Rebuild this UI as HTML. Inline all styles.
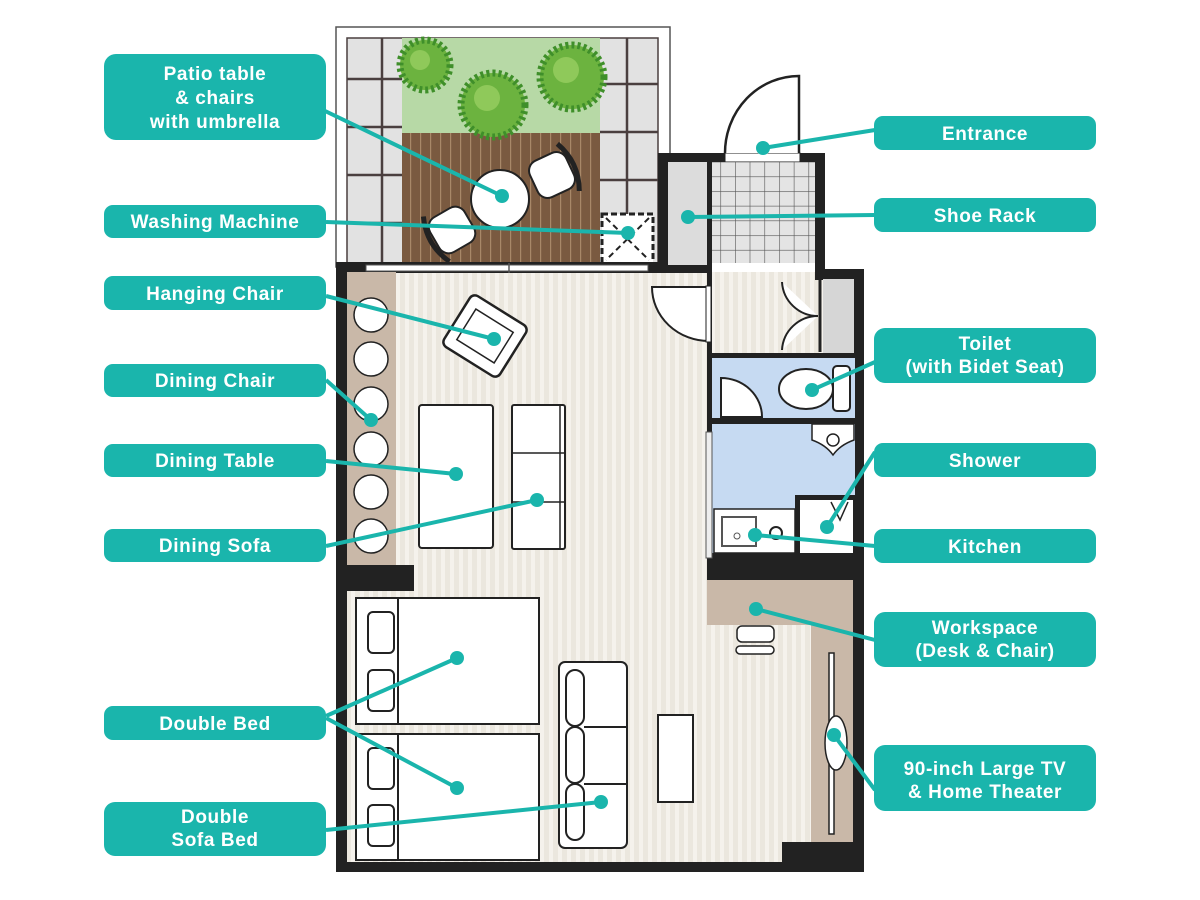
<!DOCTYPE html>
<html><head><meta charset="utf-8"><style>
html,body{margin:0;padding:0;background:#fff;width:1200px;height:900px;overflow:hidden}
svg text{font-family:"Liberation Sans","DejaVu Sans",sans-serif;font-weight:bold;fill:#fff;font-size:19px;letter-spacing:0.6px}
</style></head><body>
<svg width="1200" height="900" viewBox="0 0 1200 900" xmlns="http://www.w3.org/2000/svg">
<defs>
<pattern id="fl" width="9" height="20" patternUnits="userSpaceOnUse">
<rect width="9" height="20" fill="#ebe7de"/><rect x="0" width="4" height="20" fill="#f5f2ec"/>
</pattern>
<pattern id="deck" width="10" height="20" patternUnits="userSpaceOnUse">
<rect width="10" height="20" fill="#7a5a40"/><rect x="0" width="1.2" height="20" fill="#a88868"/>
</pattern>
<pattern id="tile" width="14.7" height="14.7" patternUnits="userSpaceOnUse">
<rect width="14.7" height="14.7" fill="#e4e4e4"/><path d="M0 0H14.7M0 0V14.7" stroke="#555" stroke-width="1.2"/>
</pattern>
</defs>

<!-- patio -->
<rect x="336" y="27" width="334" height="240" fill="#fff" stroke="#555" stroke-width="1.5"/>
<rect x="347" y="38" width="311" height="228" fill="#e2e2e2" stroke="#4a3f3f" stroke-width="1.5"/>
<g stroke="#4a3f3f" stroke-width="2.5">
<line x1="382" y1="38" x2="382" y2="265"/><line x1="627" y1="38" x2="627" y2="265"/>
<line x1="347" y1="79" x2="402" y2="79"/><line x1="347" y1="127" x2="402" y2="127"/><line x1="347" y1="175" x2="402" y2="175"/><line x1="347" y1="223" x2="402" y2="223"/>
<line x1="600" y1="84" x2="658" y2="84"/><line x1="600" y1="132" x2="658" y2="132"/><line x1="600" y1="180" x2="658" y2="180"/>
</g>
<rect x="402" y="38" width="198" height="95" fill="#b7d9a6"/>
<rect x="402" y="133" width="198" height="132" fill="url(#deck)"/>
<g stroke="#3f8f2a" stroke-width="7" stroke-dasharray="3 3" fill="#6cb33f">
<circle cx="425" cy="65" r="25"/><circle cx="572" cy="77" r="32"/><circle cx="493" cy="105" r="32"/>
</g>
<g fill="#8fc95a"><circle cx="420" cy="60" r="10"/><circle cx="566" cy="70" r="13"/><circle cx="487" cy="98" r="13"/></g>
<!-- patio furniture -->
<g stroke="#222" stroke-width="2" fill="#fff">
<g transform="translate(552,175) rotate(-25)"><rect x="-20" y="-20" width="40" height="40" rx="11"/><path d="M18 -26 Q30 0 18 26" fill="none" stroke-width="5"/></g>
<g transform="translate(452,230) rotate(150)"><rect x="-20" y="-20" width="40" height="40" rx="11"/><path d="M18 -26 Q30 0 18 26" fill="none" stroke-width="5"/></g>
<circle cx="500" cy="199" r="29"/>
<rect x="602" y="214" width="51" height="50" stroke-dasharray="6 3" stroke-width="3"/>
<path d="M606 218L649 260M649 218L606 260" stroke-dasharray="6 4"/>
</g>

<!-- main floor -->
<rect x="347" y="272" width="508" height="590" fill="url(#fl)"/>
<!-- walls -->
<g fill="#222">
<rect x="336" y="262" width="376" height="11"/>
<rect x="336" y="262" width="11" height="610"/>
<rect x="336" y="862" width="528" height="10"/>
<rect x="853" y="269" width="11" height="603"/>
<rect x="815" y="269" width="49" height="11"/>
<rect x="658" y="153" width="167" height="9"/>
<rect x="658" y="153" width="10" height="120"/>
<rect x="815" y="153" width="10" height="127"/>
<rect x="707" y="162" width="5" height="418"/>
<rect x="337" y="565" width="77" height="26"/>
<rect x="707" y="553" width="148" height="27"/>
<rect x="707" y="353" width="148" height="5"/>
<rect x="707" y="418" width="148" height="6"/>
<rect x="782" y="842" width="82" height="30"/>
</g>
<!-- window -->
<rect x="366" y="265" width="282" height="6" fill="#fff" stroke="#555" stroke-width="1"/>
<line x1="509" y1="263" x2="509" y2="273" stroke="#555" stroke-width="1.5"/>
<!-- entrance -->
<rect x="725" y="153" width="75" height="9" fill="#fff" stroke="#222" stroke-width="1"/>
<path d="M799 153V76A74 77 0 0 0 725 153" fill="#fff" stroke="#222" stroke-width="2.5"/>
<rect x="668" y="162" width="39" height="103" fill="#dcdcdc"/>
<rect x="668" y="265" width="44" height="8" fill="#222"/>
<rect x="712" y="162" width="103" height="101" fill="url(#tile)"/>
<rect x="712" y="263" width="103" height="7" fill="#fff"/>
<!-- closet -->
<rect x="823" y="279" width="31" height="74" fill="#d6d6d6"/>
<line x1="820" y1="280" x2="820" y2="352" stroke="#222" stroke-width="3"/>
<path d="M782 282A36 36 0 0 0 818 316M782 350A36 36 0 0 1 818 316" fill="#fff" stroke="#222" stroke-width="2"/>
<!-- main door -->
<path d="M652 287H709V341A57 54 0 0 1 652 287Z" fill="#fff" stroke="#222" stroke-width="2"/>
<rect x="706" y="286" width="5" height="56" fill="#fff" stroke="#222" stroke-width="1"/>
<!-- toilet room -->
<rect x="712" y="358" width="143" height="60" fill="#c6daf2"/>
<path d="M721 417V378A41 39 0 0 1 762 417Z" fill="#fff" stroke="#222" stroke-width="2"/>
<ellipse cx="806" cy="389" rx="27" ry="20" fill="#fff" stroke="#222" stroke-width="2"/>
<rect x="833" y="366" width="17" height="45" rx="4" fill="#fff" stroke="#222" stroke-width="2"/>
<!-- bath -->
<rect x="712" y="424" width="143" height="129" fill="#c6daf2"/>
<path d="M812 424H854V440Q840 445 833 455Q826 445 812 440Z" fill="#fff" stroke="#222" stroke-width="1.5"/>
<circle cx="833" cy="440" r="6" fill="none" stroke="#222" stroke-width="1.5"/>
<rect x="706" y="432" width="6" height="126" fill="#eee" stroke="#555" stroke-width="1"/>
<rect x="714" y="509" width="81" height="44" fill="#fff" stroke="#222" stroke-width="1.5"/>
<rect x="722" y="517" width="34" height="29" fill="#fff" stroke="#555" stroke-width="2"/>
<circle cx="737" cy="536" r="3" fill="none" stroke="#555"/>
<circle cx="776" cy="533" r="6" fill="none" stroke="#222" stroke-width="2"/>
<rect x="795" y="495" width="60" height="58" fill="#222"/>
<rect x="800" y="500" width="53" height="53" fill="#fff"/>
<path d="M831 502L840 520L848 502" fill="none" stroke="#222" stroke-width="1.5"/>
<!-- dining -->
<rect x="347" y="272" width="49" height="293" fill="#c9b8a8"/>
<g fill="#fff" stroke="#222" stroke-width="1.5">
<circle cx="371" cy="315" r="17"/><circle cx="371" cy="359" r="17"/><circle cx="371" cy="404" r="17"/><circle cx="371" cy="449" r="17"/><circle cx="371" cy="492" r="17"/><circle cx="371" cy="536" r="17"/>
<g transform="translate(485,336) rotate(32)"><rect x="-33" y="-30" width="66" height="60" rx="6" stroke-width="2.5"/><rect x="-22" y="-18" width="44" height="36"/></g>
<rect x="419" y="405" width="74" height="143" rx="3" stroke-width="2"/>
<rect x="512" y="405" width="53" height="144" rx="2" stroke-width="2"/>
<path d="M512 453H565M512 502H565M560 405V549"/>
</g>
<!-- beds -->
<g fill="#fff" stroke="#222" stroke-width="2">
<rect x="356" y="598" width="183" height="126"/><rect x="356" y="598" width="42" height="126"/>
<rect x="368" y="612" width="26" height="41" rx="5"/><rect x="368" y="670" width="26" height="41" rx="5"/>
<rect x="356" y="734" width="183" height="126"/><rect x="356" y="734" width="42" height="126"/>
<rect x="368" y="748" width="26" height="41" rx="5"/><rect x="368" y="805" width="26" height="41" rx="5"/>
<rect x="559" y="662" width="68" height="186" rx="6"/>
<rect x="566" y="670" width="18" height="56" rx="9"/><rect x="566" y="727" width="18" height="56" rx="9"/><rect x="566" y="784" width="18" height="56" rx="9"/>
<path d="M584 727H627M584 784H627"/>
<rect x="658" y="715" width="35" height="87"/>
</g>
<!-- workspace/tv -->
<rect x="707" y="580" width="146" height="45" fill="#c9b8a8"/>
<rect x="811" y="625" width="42" height="217" fill="#c9b8a8"/>
<rect x="737" y="626" width="37" height="16" rx="5" fill="#fff" stroke="#222" stroke-width="1.5"/>
<rect x="736" y="646" width="38" height="8" rx="4" fill="#fff" stroke="#222" stroke-width="1.5"/>
<rect x="829" y="653" width="5" height="181" fill="#fff" stroke="#222" stroke-width="1.5"/>
<ellipse cx="836" cy="743" rx="11" ry="27" fill="#fff" stroke="#222" stroke-width="1.5"/>

<!-- connectors -->
<g stroke="#1ab5ac" stroke-width="4" fill="none">
<path d="M323 110L502 196"/><path d="M326 222L628 233"/><path d="M326 296L494 339"/>
<path d="M326 380L371 420"/><path d="M326 461L456 474"/><path d="M326 546L537 500"/>
<path d="M326 716L457 658M326 718L457 788"/><path d="M326 830L601 802"/>
<path d="M875 130L763 148"/><path d="M875 215L688 217"/><path d="M875 362L812 390"/>
<path d="M875 452L827 527"/><path d="M875 546L755 535"/><path d="M875 640L756 609"/><path d="M875 790L834 735"/>
</g>
<g fill="#1ab5ac">
<circle cx="502" cy="196" r="7"/><circle cx="628" cy="233" r="7"/><circle cx="494" cy="339" r="7"/><circle cx="371" cy="420" r="7"/><circle cx="456" cy="474" r="7"/><circle cx="537" cy="500" r="7"/><circle cx="457" cy="658" r="7"/><circle cx="457" cy="788" r="7"/><circle cx="601" cy="802" r="7"/>
<circle cx="763" cy="148" r="7"/><circle cx="688" cy="217" r="7"/><circle cx="812" cy="390" r="7"/><circle cx="827" cy="527" r="7"/><circle cx="755" cy="535" r="7"/><circle cx="756" cy="609" r="7"/><circle cx="834" cy="735" r="7"/>
</g>

<!-- labels -->
<g fill="#1ab5ac">
<rect x="104" y="54" width="222" height="86" rx="12"/>
<rect x="104" y="205" width="222" height="33" rx="9"/>
<rect x="104" y="276" width="222" height="34" rx="9"/>
<rect x="104" y="364" width="222" height="33" rx="9"/>
<rect x="104" y="444" width="222" height="33" rx="9"/>
<rect x="104" y="529" width="222" height="33" rx="9"/>
<rect x="104" y="706" width="222" height="34" rx="9"/>
<rect x="104" y="802" width="222" height="54" rx="11"/>
<rect x="874" y="116" width="222" height="34" rx="9"/>
<rect x="874" y="198" width="222" height="34" rx="9"/>
<rect x="874" y="328" width="222" height="55" rx="11"/>
<rect x="874" y="443" width="222" height="34" rx="9"/>
<rect x="874" y="529" width="222" height="34" rx="9"/>
<rect x="874" y="612" width="222" height="55" rx="11"/>
<rect x="874" y="745" width="222" height="66" rx="11"/>
</g>
<g text-anchor="middle">
<text x="215" y="80">Patio table</text><text x="215" y="104">&amp; chairs</text><text x="215" y="128">with umbrella</text>
<text x="215" y="228">Washing Machine</text>
<text x="215" y="300">Hanging Chair</text>
<text x="215" y="387">Dining Chair</text>
<text x="215" y="467">Dining Table</text>
<text x="215" y="552">Dining Sofa</text>
<text x="215" y="730">Double Bed</text>
<text x="215" y="823">Double</text><text x="215" y="846">Sofa Bed</text>
<text x="985" y="140">Entrance</text>
<text x="985" y="222">Shoe Rack</text>
<text x="985" y="350">Toilet</text><text x="985" y="373">(with Bidet Seat)</text>
<text x="985" y="467">Shower</text>
<text x="985" y="553">Kitchen</text>
<text x="985" y="634">Workspace</text><text x="985" y="657">(Desk &amp; Chair)</text>
<text x="985" y="775">90-inch Large TV</text><text x="985" y="798">&amp; Home Theater</text>
</g>
</svg>
</body></html>
